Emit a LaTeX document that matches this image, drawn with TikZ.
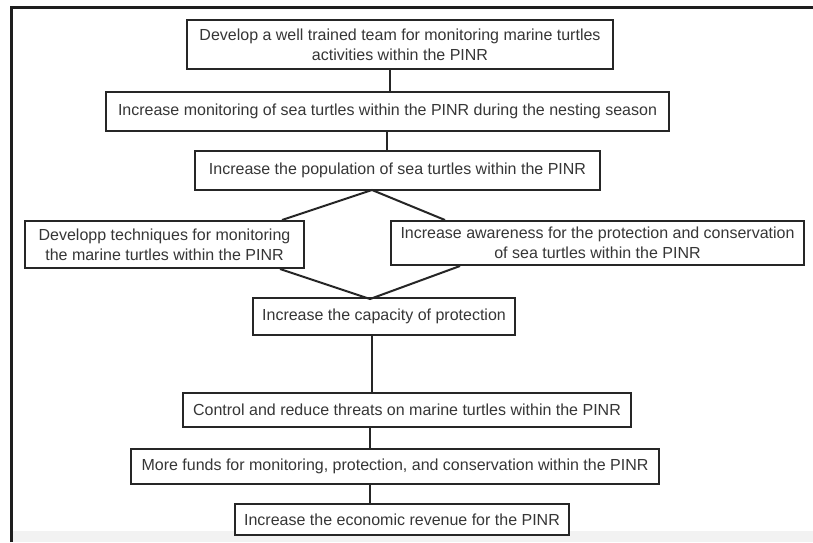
\documentclass[tikz,border=0pt]{standalone}
\usepackage{fontspec}
\setmainfont{Liberation Sans}
\definecolor{linec}{HTML}{262626}
\definecolor{textc}{HTML}{363636}
\definecolor{frame}{HTML}{1E1E1E}
\begin{document}
\begin{tikzpicture}[x=1pt,y=-1pt,
  box/.style={draw=linec, line width=2pt, fill=white, inner sep=0pt, align=center,
    text=textc, font=\fontsize{16}{20}\selectfont},
  conn/.style={draw=linec, line width=2pt}]
\useasboundingbox (0,0) rectangle (813,542);
\fill[white] (0,0) rectangle (813,542);
\fill[black!5] (12,531) rectangle (813,542);
\draw[frame, line width=3pt] (11.5,542) -- (11.5,7) -- (813,7);

\node[box, minimum width=426pt, minimum height=49pt] (n1) at (400,44.5)
  {Develop a well trained team for monitoring marine turtles\\activities within the PINR};
\node[box, minimum width=563pt, minimum height=39pt] (n2) at (387.5,111.5)
  {Increase monitoring of sea turtles within the PINR during the nesting season};
\node[box, minimum width=405pt, minimum height=39pt] (n3) at (397.5,170.5)
  {Increase the population of sea turtles within the PINR};
\node[box, minimum width=279pt, minimum height=47pt] (n4) at (164.5,244.5)
  {Developp techniques for monitoring\\the marine turtles within the PINR};
\node[box, minimum width=413pt, minimum height=44pt] (n5) at (597.5,243)
  {Increase awareness for the protection and conservation\\of sea turtles within the PINR};
\node[box, minimum width=262pt, minimum height=37pt] (n6) at (384,316.5)
  {Increase the capacity of protection};
\node[box, minimum width=448pt, minimum height=34pt] (n7) at (407,410)
  {Control and reduce threats on marine turtles within the PINR};
\node[box, minimum width=528pt, minimum height=35pt] (n8) at (395,466.5)
  {More funds for monitoring, protection, and conservation within the PINR};
\node[box, minimum width=334pt, minimum height=31pt] (n9) at (402,519.5)
  {Increase the economic revenue for the PINR};

\coordinate (x390) at (390,0);
\coordinate (x387) at (387,0);
\coordinate (x372) at (372,0);
\coordinate (x370) at (370,0);
\coordinate (top) at (372,190);
\coordinate (bot) at (370,299);

\draw[conn] (n1.south -| x390) -- (n2.north -| x390);
\draw[conn] (n2.south -| x387) -- (n3.north -| x387);
\draw[conn] ([xshift=117.5pt]n4.north) -- (top) -- ([xshift=-152.5pt]n5.north);
\draw[conn] ([xshift=115.5pt]n4.south) -- (bot) -- ([xshift=-137.5pt]n5.south);
\draw[conn] (n6.south -| x372) -- (n7.north -| x372);
\draw[conn] (n7.south -| x370) -- (n8.north -| x370);
\draw[conn] (n8.south -| x370) -- (n9.north -| x370);
\end{tikzpicture}
\end{document}
